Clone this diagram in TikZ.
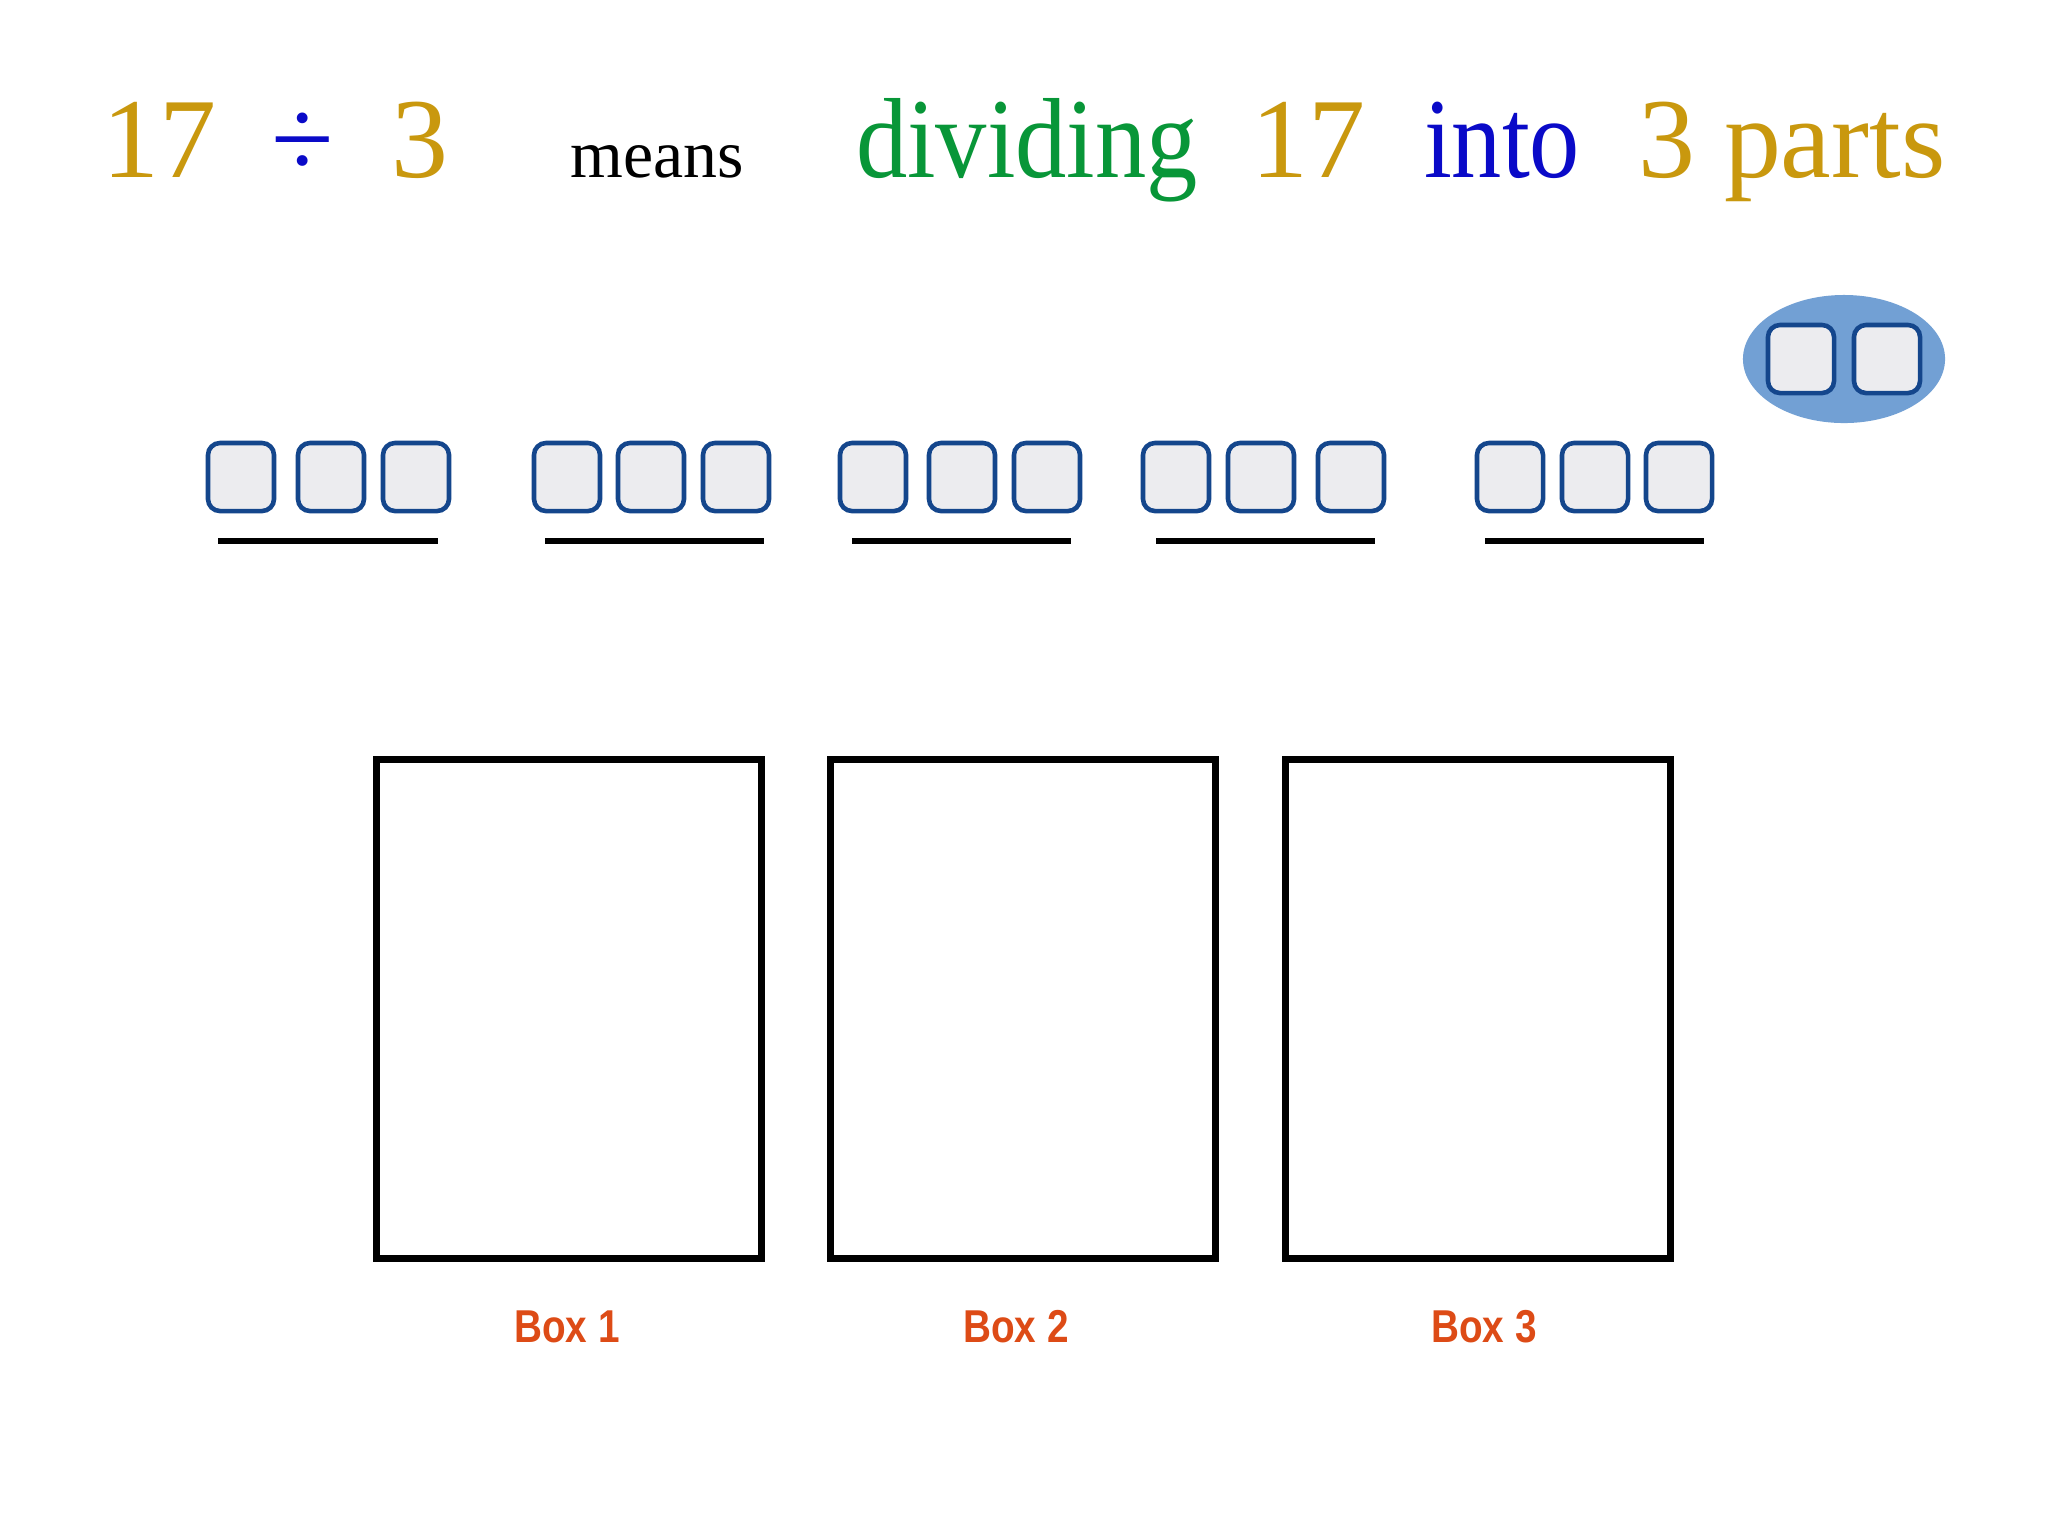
\documentclass[tikz,border=0pt]{standalone}
\usepackage{fontspec}
\setmainfont{Liberation Serif}
\newfontfamily\labelfont{Liberation Sans}
\usetikzlibrary{shapes.geometric}
\definecolor{gold}{RGB}{201,152,14}
\definecolor{leafgreen}{RGB}{8,150,56}
\definecolor{inkblue}{RGB}{10,10,200}
\definecolor{tileedge}{RGB}{20,70,140}
\definecolor{tilefill}{RGB}{236,236,239}
\definecolor{ovalfill}{RGB}{114,160,212}
\definecolor{boxlabel}{RGB}{221,75,22}
\begin{document}
\begin{tikzpicture}[x=0.01cm,y=-0.01cm,
    big/.style={anchor=base,inner sep=0pt,font=\fontsize{32.4}{36}\selectfont},
    small/.style={anchor=base,inner sep=0pt,font=\fontsize{19.3}{22}\selectfont},
    tile/.style={draw=tileedge,fill=tilefill,line width=1.3pt,rounded corners=0.12cm,
      minimum width=0.66cm,minimum height=0.68cm,inner sep=0pt},
    bar/.style={line width=1.9pt},
    bin/.style={draw,line width=2pt,minimum width=3.85cm,minimum height=4.99cm,inner sep=0pt},
    binlabel/.style={anchor=base,inner sep=0pt,text=boxlabel,xscale=0.84,
      font=\labelfont\bfseries\fontsize{13.1}{15}\selectfont}]
      \useasboundingbox (0,0) rectangle (2048,1535);
      \fill[white] (0,0) rectangle (2048,1535);
      \node[big,text=gold] (n17) at (159,177) {17};
      \node[big,text=inkblue] (div) at (303,177) {÷};
      \node[big,text=gold] (n3) at (420,177) {3};
      \node[small] (means) at (657,177) {means};
      \node[big,text=leafgreen,xscale=0.9] (dividing) at (1027,177) {dividing};
      \node[big,text=gold] (m17) at (1308,177) {17};
      \node[big,text=inkblue,xscale=0.88] (into) at (1502,177) {into};
      \node[big,text=gold] (parts) at (1792,177) {3 parts};
      \node[ellipse,fill=ovalfill,minimum width=2.02cm,minimum height=1.28cm] (oval) at (1844,359) {};
      \node[tile] (r1) at (1801,359) {};
      \node[tile] (r2) at (1887,359) {};
      \node[tile] (t11) at (241,477) {};
      \node[tile] (t12) at (331,477) {};
      \node[tile] (t13) at (416,477) {};
      \node[tile] (t21) at (567,477) {};
      \node[tile] (t22) at (651,477) {};
      \node[tile] (t23) at (736,477) {};
      \node[tile] (t31) at (873,477) {};
      \node[tile] (t32) at (962,477) {};
      \node[tile] (t33) at (1047,477) {};
      \node[tile] (t41) at (1176,477) {};
      \node[tile] (t42) at (1261,477) {};
      \node[tile] (t43) at (1351,477) {};
      \node[tile] (t51) at (1510,477) {};
      \node[tile] (t52) at (1595,477) {};
      \node[tile] (t53) at (1679,477) {};
      \draw[bar] (218,541) -- (438,541);
      \draw[bar] (545,541) -- (764,541);
      \draw[bar] (852,541) -- (1071,541);
      \draw[bar] (1156,541) -- (1375,541);
      \draw[bar] (1485,541) -- (1704,541);
      \node[bin] (box1) at (569,1009) {};
      \node[bin] (box2) at (1023,1009) {};
      \node[bin] (box3) at (1478,1009) {};
      \node[binlabel] (lab1) at (567,1342) {Box 1};
      \node[binlabel] (lab2) at (1016,1342) {Box 2};
      \node[binlabel] (lab3) at (1484,1342) {Box 3};
    \end{tikzpicture}
\end{document}
